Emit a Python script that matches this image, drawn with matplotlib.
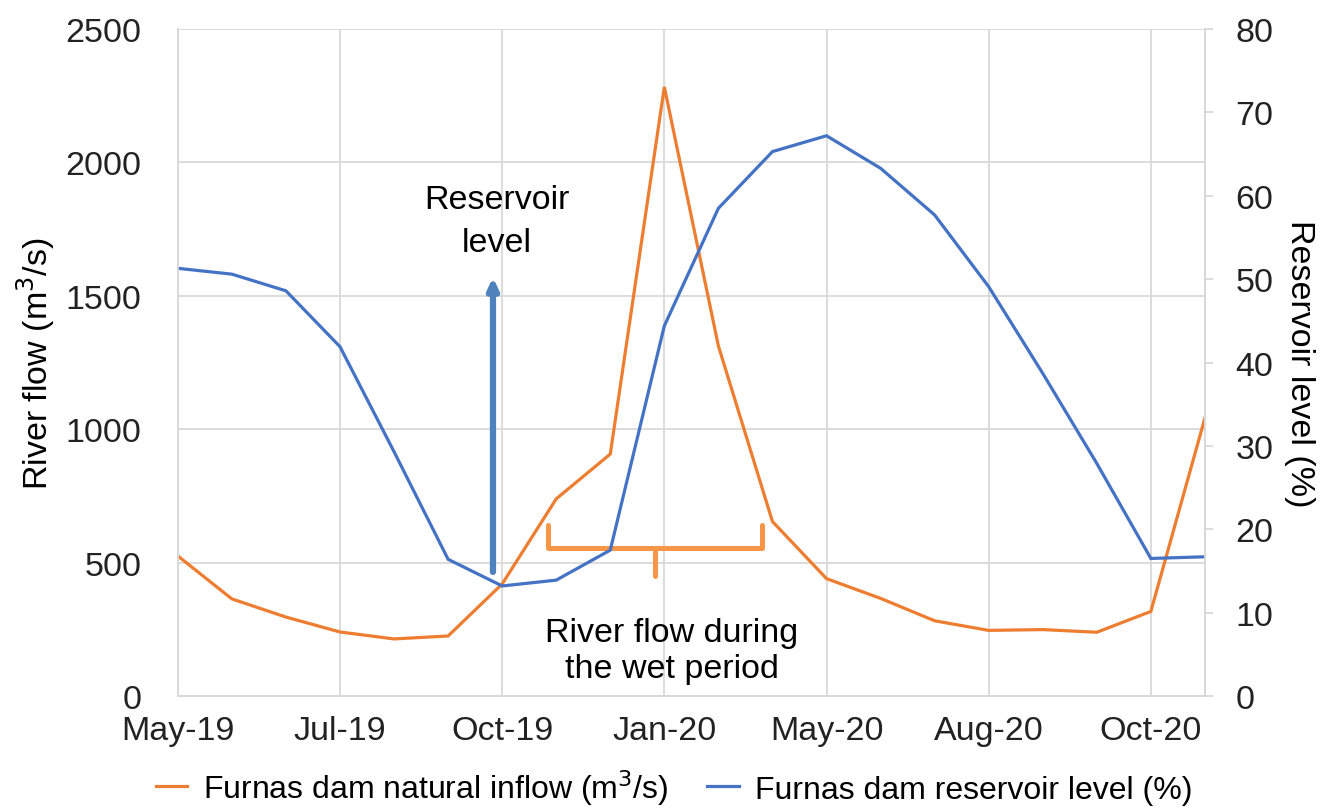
import matplotlib.pyplot as plt

plt.rcParams["font.family"] = ["Liberation Sans", "DejaVu Sans"]

# monthly points, May-19 .. Dec-20 (20 samples)
inflow = [525, 364, 296, 240, 214, 225, 420, 739, 907, 2283,
          1312, 654, 440, 366, 282, 246, 249, 239, 317, 1042]
level = [51.3, 50.6, 48.6, 41.9, 29.3, 16.4, 13.2, 13.9, 17.5, 44.4,
         58.5, 65.3, 67.2, 63.3, 57.7, 49.1, 38.7, 27.9, 16.5, 16.7]
tick_idx = [0, 3, 6, 9, 12, 15, 18]
tick_labels = ["May-19", "Jul-19", "Oct-19", "Jan-20", "May-20", "Aug-20", "Oct-20"]

ORANGE = "#ED7D31"
BLUE = "#4472C4"
GRID = "#d9d9d9"
FS = 24.5

x = list(range(len(inflow)))

fig = plt.figure(figsize=(13.27, 8.12), dpi=100)
ax = fig.add_axes([0.134, 0.1416, 0.774, 0.8214])
ax2 = ax.twinx()

l1, = ax.plot(x, inflow, color=ORANGE, lw=2.3, solid_joinstyle="miter")
l2, = ax2.plot(x, level, color=BLUE, lw=2.3, solid_joinstyle="miter")

ax.set_xlim(0, 19)
ax.set_ylim(0, 2500)
ax2.set_ylim(0, 80)
ax.set_yticks(range(0, 2501, 500))
ax2.set_yticks(range(0, 81, 10))
ax.set_xticks(tick_idx)
ax.set_xticklabels(tick_labels)

ax.grid(True, color=GRID, lw=1.3)
ax.set_axisbelow(True)

for a in (ax, ax2):
    for s in a.spines.values():
        s.set_color(GRID)
        s.set_linewidth(1.3)
    a.spines["top"].set_visible(False)
    a.tick_params(labelsize=FS, colors="#222222", length=0, pad=10)
ax2.tick_params(axis="y", length=6, color=GRID, width=1.3, pad=16)
ax.tick_params(axis="x", pad=14)
ax.tick_params(axis="y", pad=26)

ax.set_ylabel("River flow (m$^3$/s)", fontsize=FS, labelpad=6)
ax2.set_ylabel("Reservoir level (%)", fontsize=FS, rotation=270, labelpad=30)

# annotations
ax.annotate("", xy=(5.83, 1570), xytext=(5.83, 465),
            arrowprops=dict(arrowstyle="-|>,head_width=0.3,head_length=0.65",
                            color="#4f81bd", lw=4.5, shrinkA=0, shrinkB=0))
ax.text(5.9, 1780, "Reservoir\nlevel", ha="center", va="center",
        fontsize=FS, linespacing=1.5)

bx0, bx1, bxm = 6.85, 10.8, 8.83
ax.plot([bx0, bx0, bx1, bx1], [640, 555, 555, 640], color="#F79646",
        lw=3.6, solid_joinstyle="round", solid_capstyle="round")
ax.plot([bxm, bxm], [555, 450], color="#F79646", lw=3.6, solid_capstyle="round")
ax.text(9.14, 172, "River flow during\nthe wet period", ha="center", va="center",
        fontsize=FS, linespacing=1.2)

fig.legend([l1, l2], ["Furnas dam natural inflow (m$^3$/s)", "Furnas dam reservoir level (%)"],
           loc="lower center", bbox_to_anchor=(0.508, -0.03), ncol=2, frameon=False,
           fontsize=23, handlelength=1.0, columnspacing=1.2, handletextpad=0.5)

fig.savefig("out.png", dpi=100)
